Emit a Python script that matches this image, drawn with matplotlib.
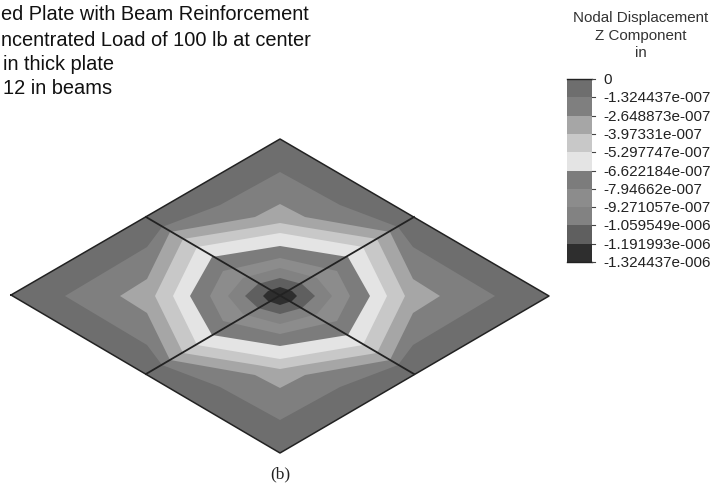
import numpy as np
import matplotlib
matplotlib.use("Agg")
import matplotlib.pyplot as plt

plt.rcParams['font.family'] = ['Liberation Sans', 'DejaVu Sans']

W, H = 712, 487

# -----------------------------
# Data
# -----------------------------
title_lines = [
    "ed Plate with Beam Reinforcement",
    "ncentrated Load of 100 lb at center",
    "in thick plate",
    "12 in beams",
]
legend_title = ["Nodal Displacement", "Z Component", "in"]
legend_labels = [
    "0", "-1.324437e-007", "-2.648873e-007", "-3.97331e-007",
    "-5.297747e-007", "-6.622184e-007", "-7.94662e-007", "-9.271057e-007",
    "-1.059549e-006", "-1.191993e-006", "-1.324437e-006",
]
band_colors = ["#6e6e6e", "#7f7f7f", "#a6a6a6", "#c8c8c8", "#e4e4e4",
               "#7c7c7c", "#8c8c8c", "#828282", "#5f5f5f", "#2e2e2e"]

# plate outline and beams, picture pixels
plate_x = [11, 280, 549, 280]
plate_y = [295, 139, 296, 453]
beam_a_x, beam_a_y = [146, 414], [217, 374]
beam_b_x, beam_b_y = [414, 146], [217, 374]

# contour lines between bands, one quarter of the plate as (dx, dy) from the
# centre, going from the horizontal axis round to the vertical axis
center_x, center_y = 280, 296
contour_1 = [(215, 0), (133, 49), (118, 69), (60, 91), (0, 124)]
contour_2 = [(160, 0), (133, 17), (110, 64), (25, 79), (0, 92)]
contour_3 = [(125, 0), (97, 57), (23, 69), (0, 73)]
contour_4 = [(107, 0), (83, 49), (0, 63)]
contour_5 = [(90, 0), (68, 39), (0, 50)]
contour_6 = [(70, 0), (57, 25), (0, 38)]
contour_7 = [(52, 0), (37, 18), (0, 28)]
contour_8 = [(35, 0), (22, 12), (0, 18)]
contour_9 = [(17, 0), (12, 5), (0, 9)]
contours = [contour_1, contour_2, contour_3, contour_4, contour_5,
            contour_6, contour_7, contour_8, contour_9]


def mirror_quarter(quarter):
    # top left, top right, bottom right, bottom left
    q = np.array(quarter, dtype=float)
    top_left = np.column_stack([center_x - q[:, 0], center_y - q[:, 1]])
    top_right = np.column_stack([center_x + q[::-1, 0], center_y - q[::-1, 1]])
    bot_right = np.column_stack([center_x + q[:, 0], center_y + q[:, 1]])
    bot_left = np.column_stack([center_x - q[::-1, 0], center_y + q[::-1, 1]])
    return np.vstack([top_left, top_right[1:], bot_right[1:], bot_left[1:-1]])


fig = plt.figure(figsize=(W / 100, H / 100), dpi=100)
ax = fig.add_axes([0, 0, 1, 1])
ax.set_xlim(0, W)
ax.set_ylim(H, 0)
ax.axis("off")

# plate and nested bands
ax.fill(plate_x, plate_y, color=band_colors[0], lw=0, zorder=1)
for i, c in enumerate(contours):
    pts = mirror_quarter(c)
    ax.fill(pts[:, 0], pts[:, 1], color=band_colors[i + 1], lw=0, zorder=2 + i)

# outline and beams
ax.plot(plate_x + plate_x[:1], plate_y + plate_y[:1], color="#222222", lw=1.1, zorder=20)
ax.plot(beam_a_x, beam_a_y, color="#222222", lw=1.3, zorder=20)
ax.plot(beam_b_x, beam_b_y, color="#222222", lw=1.3, zorder=20)

# title block
for txt, x, y in zip(title_lines, [1, 1, 3, 3], [15, 40, 65, 88]):
    ax.text(x, y, txt, fontsize=14.4, color="#111111", ha="left", va="center")

# legend
for txt, y in zip(legend_title, [18, 36, 53]):
    ax.text(641, y, txt, fontsize=10.9, color="#333333", ha="center", va="center")

bar_left, bar_right, bar_top, bar_bot = 567, 592, 79, 262
edges = np.linspace(bar_top, bar_bot, len(band_colors) + 1)
for i, col in enumerate(band_colors):
    ax.fill_between([bar_left, bar_right], edges[i], edges[i + 1], color=col, lw=0)
ax.plot([bar_left, bar_right], [bar_top, bar_top], color="#222222", lw=1)
ax.plot([bar_left, bar_right], [bar_bot, bar_bot], color="#222222", lw=1)
for y, lab in zip(edges, legend_labels):
    ax.plot([bar_right, bar_right + 3], [y, y], color="#444444", lw=0.8)
    ax.text(603, y + 1, lab, fontsize=11, color="#222222", ha="left", va="center")

ax.text(280, 474, "(b)", fontsize=12.5, family="Liberation Serif", color="#222222",
        ha="center", va="center")

fig.savefig("out.png", dpi=100)
